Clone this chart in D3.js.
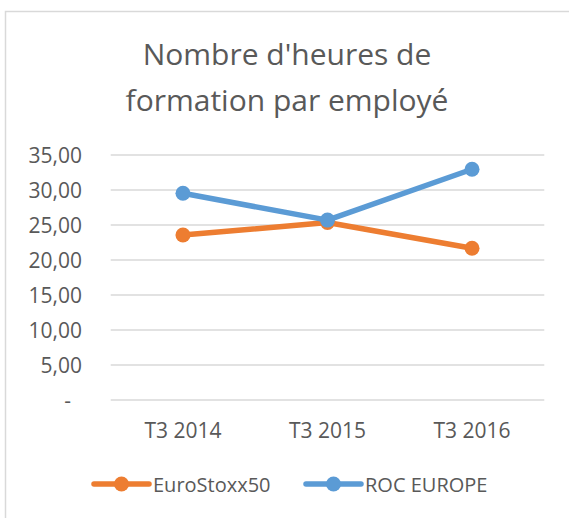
<!DOCTYPE html>
<html>
<head>
<meta charset="utf-8">
<script src="https://cdn.jsdelivr.net/npm/d3@7"></script>
<style>
  body { margin: 0; background: #fff; }
  text { font-family: "Open Sans", sans-serif; fill: #595959; }
</style>
</head>
<body>
<svg id="chart" width="569" height="518"></svg>
<script>
// data
var categories = ["T3 2014", "T3 2015", "T3 2016"];
var euroStoxx = [23.57, 25.35, 21.67];
var rocEurope = [29.53, 25.7, 32.96];
var seriesNames = ["EuroStoxx50", "ROC EUROPE"];
var seriesColors = ["#ED7D31", "#5B9BD5"];
var yTicks = [0, 5, 10, 15, 20, 25, 30, 35];
var titleLines = ["Nombre d'heures de", "formation par employé"];

var svg = d3.select("#chart");

// chart area border (excel style)
svg.append("rect")
  .attr("x", 5.5).attr("y", 11.5)
  .attr("width", 600).attr("height", 600)
  .attr("fill", "#fff")
  .attr("stroke", "#d9d9d9")
  .attr("stroke-width", 1.5);

// title
svg.selectAll(".title")
  .data(titleLines)
  .enter()
  .append("text")
  .attr("class", "title")
  .attr("x", 287)
  .attr("y", function(d, i) { return 65 + i * 45.7; })
  .attr("text-anchor", "middle")
  .style("font-size", "30px")
  .text(function(d) { return d; });

var x = d3.scaleBand().domain(categories).range([110.7, 544.3]);
var y = d3.scaleLinear().domain([0, 35]).range([400, 155]);

// gridlines
svg.append("g")
  .selectAll("line")
  .data(yTicks)
  .enter()
  .append("line")
  .attr("x1", x.range()[0]).attr("x2", x.range()[1])
  .attr("y1", function(d) { return y(d); })
  .attr("y2", function(d) { return y(d); })
  .attr("stroke", "#d9d9d9")
  .attr("stroke-width", 1.5);

// y labels
var fmt = function(d) { return d === 0 ? "-" : d3.format(".2f")(d).replace(".", ","); };
svg.append("g")
  .selectAll("text")
  .data(yTicks)
  .enter()
  .append("text")
  .attr("x", function(d) { return d === 0 ? 71 : 82; })
  .attr("y", function(d) { return y(d) + 7.5; })
  .attr("text-anchor", "end")
  .style("font-size", "21px")
  .text(fmt);

// x labels
svg.append("g")
  .selectAll("text")
  .data(categories)
  .enter()
  .append("text")
  .attr("x", function(d) { return x(d) + x.bandwidth() / 2; })
  .attr("y", 438)
  .attr("text-anchor", "middle")
  .style("font-size", "21px")
  .text(function(d) { return d; });

var line = d3.line()
  .x(function(d, i) { return x(categories[i]) + x.bandwidth() / 2; })
  .y(function(d) { return y(d); });

var allSeries = [euroStoxx, rocEurope];
allSeries.forEach(function(vals, s) {
  var g = svg.append("g");
  g.append("path")
    .datum(vals)
    .attr("d", line)
    .attr("fill", "none")
    .attr("stroke", seriesColors[s])
    .attr("stroke-width", 5.5)
    .attr("stroke-linejoin", "round")
    .attr("stroke-linecap", "round");
  g.selectAll("circle")
    .data(vals)
    .enter()
    .append("circle")
    .attr("cx", function(d, i) { return x(categories[i]) + x.bandwidth() / 2; })
    .attr("cy", function(d) { return y(d); })
    .attr("r", 7.5)
    .attr("fill", seriesColors[s]);
});

// legend
var legendX = [94, 306];
var leg = svg.append("g")
  .selectAll("g")
  .data(seriesNames)
  .enter()
  .append("g")
  .attr("transform", function(d, i) { return "translate(" + legendX[i] + ",484)"; });
leg.append("line")
  .attr("x1", 0).attr("x2", 55)
  .attr("stroke", function(d, i) { return seriesColors[i]; })
  .attr("stroke-width", 5.5)
  .attr("stroke-linecap", "round");
leg.append("circle")
  .attr("cx", 27.5).attr("r", 7.5)
  .attr("fill", function(d, i) { return seriesColors[i]; });
leg.append("text")
  .attr("x", 59).attr("y", 7.7)
  .style("font-size", "20px")
  .text(function(d) { return d; });
</script>
</body>
</html>
